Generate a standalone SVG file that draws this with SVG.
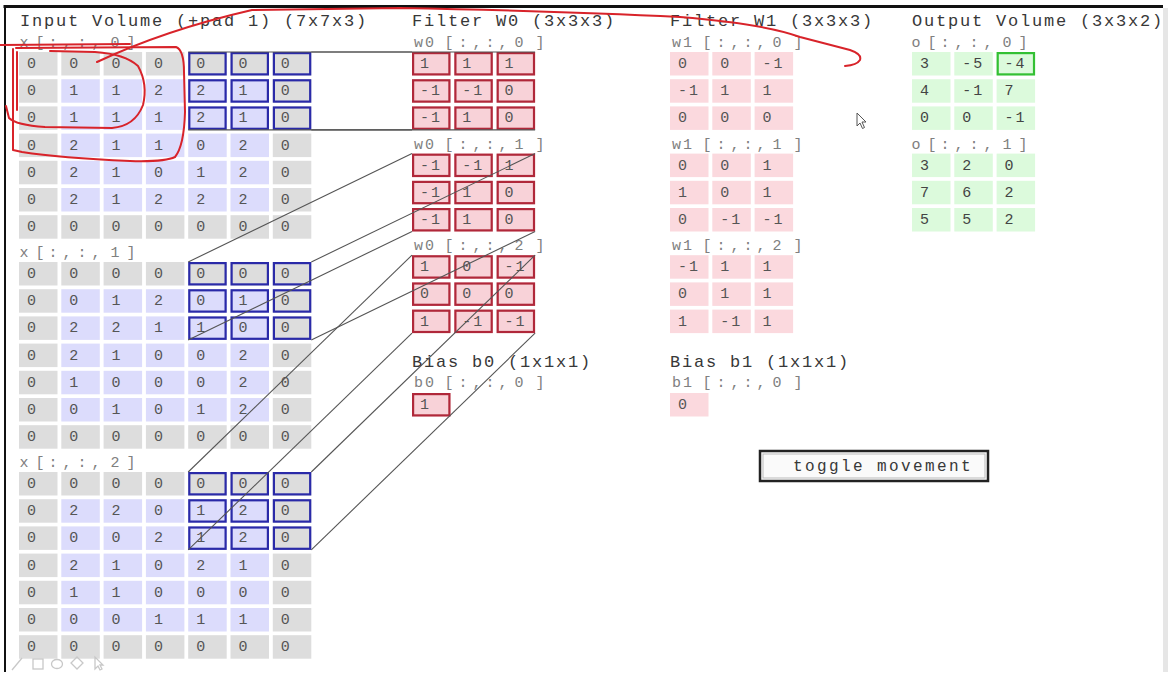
<svg xmlns="http://www.w3.org/2000/svg" xmlns:xlink="http://www.w3.org/1999/xlink" width="1172" height="691" viewBox="0 0 1172 691">
<style>
.h{font-family:"Liberation Mono",monospace;font-size:17px;letter-spacing:1.8px;fill:#383838}
.l{font-family:"Liberation Mono",monospace;font-size:15px;fill:#808080}
.n{font-family:"Liberation Mono",monospace;font-size:15px;letter-spacing:2px;fill:#555}
.no{font-family:"Liberation Mono",monospace;font-size:15px;letter-spacing:2px;fill:#444}
.conn line{stroke:#555;stroke-width:1.1}
.red{fill:none;stroke:#d8232a;stroke-width:2;stroke-linecap:round;stroke-linejoin:round}
</style>
<defs>
<g id="prow" fill="#dddddd">
<rect x="0" width="38.5" height="23.5"/><rect x="42.3" width="38.5" height="23.5"/><rect x="84.6" width="38.5" height="23.5"/><rect x="126.9" width="38.5" height="23.5"/><rect x="169.2" width="38.5" height="23.5"/><rect x="211.5" width="38.5" height="23.5"/><rect x="253.8" width="38.5" height="23.5"/>
</g>
<g id="irow">
<rect x="0" width="38.5" height="23.5" fill="#dddddd"/><rect x="42.3" width="38.5" height="23.5" fill="#dcdcfc"/><rect x="84.6" width="38.5" height="23.5" fill="#dcdcfc"/><rect x="126.9" width="38.5" height="23.5" fill="#dcdcfc"/><rect x="169.2" width="38.5" height="23.5" fill="#dcdcfc"/><rect x="211.5" width="38.5" height="23.5" fill="#dcdcfc"/><rect x="253.8" width="38.5" height="23.5" fill="#dddddd"/>
</g>
<g id="win" fill="none" stroke="#2a2aa8" stroke-width="2.2">
<rect x="170.3" y="1.1" width="36.3" height="21.3"/><rect x="212.6" y="1.1" width="36.3" height="21.3"/><rect x="254.9" y="1.1" width="36.3" height="21.3"/>
<rect x="170.3" y="28.3" width="36.3" height="21.3"/><rect x="212.6" y="28.3" width="36.3" height="21.3"/><rect x="254.9" y="28.3" width="36.3" height="21.3"/>
<rect x="170.3" y="55.5" width="36.3" height="21.3"/><rect x="212.6" y="55.5" width="36.3" height="21.3"/><rect x="254.9" y="55.5" width="36.3" height="21.3"/>
</g>
<g id="grid3">
<rect x="0" y="0" width="38.5" height="23.5"/><rect x="42.3" y="0" width="38.5" height="23.5"/><rect x="84.6" y="0" width="38.5" height="23.5"/>
<rect x="0" y="27.2" width="38.5" height="23.5"/><rect x="42.3" y="27.2" width="38.5" height="23.5"/><rect x="84.6" y="27.2" width="38.5" height="23.5"/>
<rect x="0" y="54.4" width="38.5" height="23.5"/><rect x="42.3" y="54.4" width="38.5" height="23.5"/><rect x="84.6" y="54.4" width="38.5" height="23.5"/>
</g>
<g id="fgrid">
<use xlink:href="#grid3" fill="#f8d2d8"/>
<g fill="none" stroke="#b0283a" stroke-width="2.2">
<rect x="1.1" y="1.1" width="36.3" height="21.3"/><rect x="43.4" y="1.1" width="36.3" height="21.3"/><rect x="85.7" y="1.1" width="36.3" height="21.3"/>
<rect x="1.1" y="28.3" width="36.3" height="21.3"/><rect x="43.4" y="28.3" width="36.3" height="21.3"/><rect x="85.7" y="28.3" width="36.3" height="21.3"/>
<rect x="1.1" y="55.5" width="36.3" height="21.3"/><rect x="43.4" y="55.5" width="36.3" height="21.3"/><rect x="85.7" y="55.5" width="36.3" height="21.3"/>
</g>
</g>
<g id="w1grid"><use xlink:href="#grid3" fill="#fbd9de"/></g>
<g id="ogrid"><use xlink:href="#grid3" fill="#dcfadc"/></g>
</defs>

<rect x="0" y="0" width="1172" height="691" fill="#ffffff"/>
<!-- page frame -->
<line x1="3.5" y1="6.5" x2="1163" y2="6.5" stroke="#111" stroke-width="3"/>
<line x1="5" y1="5" x2="5" y2="672" stroke="#111" stroke-width="2"/>
<rect x="1163" y="8" width="5" height="664" fill="#e6e6e6"/>

<!-- titles -->
<text class="h" x="20" y="26">Input Volume (+pad 1) (7x7x3)</text>
<text class="h" x="412" y="26">Filter W0 (3x3x3)</text>
<text class="h" x="670" y="26">Filter W1 (3x3x3)</text>
<text class="h" x="912" y="26">Output Volume (3x3x2)</text>

<!-- input volume -->
<g id="input-x0">
<text class="l" x="19.5 35.5 48.5 62.5 77.5 91.5 110.5 126.5" y="47">x[:,:,0]</text>
<g transform="translate(19,52)">
<use xlink:href="#prow"/><use xlink:href="#irow" y="27.2"/><use xlink:href="#irow" y="54.4"/><use xlink:href="#irow" y="81.6"/><use xlink:href="#irow" y="108.8"/><use xlink:href="#irow" y="136"/><use xlink:href="#prow" y="163.2"/>
<use xlink:href="#win"/>
<text class="n" x="8 50.3 92.6 134.9 177.2 219.5 261.8" y="16">0000000</text>
<text class="n" x="8 50.3 92.6 134.9 177.2 219.5 261.8" y="43.2">0112210</text>
<text class="n" x="8 50.3 92.6 134.9 177.2 219.5 261.8" y="70.4">0111210</text>
<text class="n" x="8 50.3 92.6 134.9 177.2 219.5 261.8" y="97.6">0211020</text>
<text class="n" x="8 50.3 92.6 134.9 177.2 219.5 261.8" y="124.8">0210120</text>
<text class="n" x="8 50.3 92.6 134.9 177.2 219.5 261.8" y="152">0212220</text>
<text class="n" x="8 50.3 92.6 134.9 177.2 219.5 261.8" y="179.2">0000000</text>
</g>
</g>
<g id="input-x1">
<text class="l" x="19.5 35.5 48.5 62.5 77.5 91.5 110.5 126.5" y="257">x[:,:,1]</text>
<g transform="translate(19,262)">
<use xlink:href="#prow"/><use xlink:href="#irow" y="27.2"/><use xlink:href="#irow" y="54.4"/><use xlink:href="#irow" y="81.6"/><use xlink:href="#irow" y="108.8"/><use xlink:href="#irow" y="136"/><use xlink:href="#prow" y="163.2"/>
<use xlink:href="#win"/>
<text class="n" x="8 50.3 92.6 134.9 177.2 219.5 261.8" y="16">0000000</text>
<text class="n" x="8 50.3 92.6 134.9 177.2 219.5 261.8" y="43.2">0012010</text>
<text class="n" x="8 50.3 92.6 134.9 177.2 219.5 261.8" y="70.4">0221100</text>
<text class="n" x="8 50.3 92.6 134.9 177.2 219.5 261.8" y="97.6">0210020</text>
<text class="n" x="8 50.3 92.6 134.9 177.2 219.5 261.8" y="124.8">0100020</text>
<text class="n" x="8 50.3 92.6 134.9 177.2 219.5 261.8" y="152">0010120</text>
<text class="n" x="8 50.3 92.6 134.9 177.2 219.5 261.8" y="179.2">0000000</text>
</g>
</g>
<g id="input-x2">
<text class="l" x="19.5 35.5 48.5 62.5 77.5 91.5 110.5 126.5" y="467">x[:,:,2]</text>
<g transform="translate(19,472)">
<use xlink:href="#prow"/><use xlink:href="#irow" y="27.2"/><use xlink:href="#irow" y="54.4"/><use xlink:href="#irow" y="81.6"/><use xlink:href="#irow" y="108.8"/><use xlink:href="#irow" y="136"/><use xlink:href="#prow" y="163.2"/>
<use xlink:href="#win"/>
<text class="n" x="8 50.3 92.6 134.9 177.2 219.5 261.8" y="16">0000000</text>
<text class="n" x="8 50.3 92.6 134.9 177.2 219.5 261.8" y="43.2">0220120</text>
<text class="n" x="8 50.3 92.6 134.9 177.2 219.5 261.8" y="70.4">0002120</text>
<text class="n" x="8 50.3 92.6 134.9 177.2 219.5 261.8" y="97.6">0210210</text>
<text class="n" x="8 50.3 92.6 134.9 177.2 219.5 261.8" y="124.8">0110000</text>
<text class="n" x="8 50.3 92.6 134.9 177.2 219.5 261.8" y="152">0001110</text>
<text class="n" x="8 50.3 92.6 134.9 177.2 219.5 261.8" y="179.2">0000000</text>
</g>
</g>

<!-- filter W0 -->
<g id="filter-w0-0">
<text class="l" x="414 425 444.5 458.5 472.5 485.5 498.5 514.5 535.5" y="47">w0[:,:,0]</text>
<g transform="translate(412,52)"><use xlink:href="#fgrid"/>
<text class="n" x="8" y="16">1</text><text class="n" x="50.3" y="16">1</text><text class="n" x="92.6" y="16">1</text>
<text class="n" x="8" y="43.2">-1</text><text class="n" x="50.3" y="43.2">-1</text><text class="n" x="92.6" y="43.2">0</text>
<text class="n" x="8" y="70.4">-1</text><text class="n" x="50.3" y="70.4">1</text><text class="n" x="92.6" y="70.4">0</text>
</g></g>
<g id="filter-w0-1">
<text class="l" x="414 425 444.5 458.5 472.5 485.5 498.5 514.5 535.5" y="148.6">w0[:,:,1]</text>
<g transform="translate(412,153.6)"><use xlink:href="#fgrid"/>
<text class="n" x="8" y="16">-1</text><text class="n" x="50.3" y="16">-1</text><text class="n" x="92.6" y="16">1</text>
<text class="n" x="8" y="43.2">-1</text><text class="n" x="50.3" y="43.2">1</text><text class="n" x="92.6" y="43.2">0</text>
<text class="n" x="8" y="70.4">-1</text><text class="n" x="50.3" y="70.4">1</text><text class="n" x="92.6" y="70.4">0</text>
</g></g>
<g id="filter-w0-2">
<text class="l" x="414 425 444.5 458.5 472.5 485.5 498.5 514.5 535.5" y="250.2">w0[:,:,2]</text>
<g transform="translate(412,255.2)"><use xlink:href="#fgrid"/>
<text class="n" x="8" y="16">1</text><text class="n" x="50.3" y="16">0</text><text class="n" x="92.6" y="16">-1</text>
<text class="n" x="8" y="43.2">0</text><text class="n" x="50.3" y="43.2">0</text><text class="n" x="92.6" y="43.2">0</text>
<text class="n" x="8" y="70.4">1</text><text class="n" x="50.3" y="70.4">-1</text><text class="n" x="92.6" y="70.4">-1</text>
</g></g>
<g id="bias-b0">
<text class="h" x="412" y="367">Bias b0 (1x1x1)</text>
<text class="l" x="414 425 444.5 458.5 472.5 485.5 498.5 514.5 535.5" y="387">b0[:,:,0]</text>
<rect x="412" y="393" width="38.5" height="23.5" fill="#f8d2d8"/>
<rect x="413.1" y="394.1" width="36.3" height="21.3" fill="none" stroke="#b0283a" stroke-width="2.2"/>
<text class="n" x="420" y="409">1</text>
</g>

<!-- filter W1 -->
<g id="filter-w1-0">
<text class="l" x="672 683 702.5 716.5 730.5 743.5 756.5 772.5 793.5" y="47">w1[:,:,0]</text>
<g transform="translate(670,52)"><use xlink:href="#w1grid"/>
<text class="n" x="8" y="16">0</text><text class="n" x="50.3" y="16">0</text><text class="n" x="92.6" y="16">-1</text>
<text class="n" x="8" y="43.2">-1</text><text class="n" x="50.3" y="43.2">1</text><text class="n" x="92.6" y="43.2">1</text>
<text class="n" x="8" y="70.4">0</text><text class="n" x="50.3" y="70.4">0</text><text class="n" x="92.6" y="70.4">0</text>
</g></g>
<g id="filter-w1-1">
<text class="l" x="672 683 702.5 716.5 730.5 743.5 756.5 772.5 793.5" y="148.6">w1[:,:,1]</text>
<g transform="translate(670,153.6)"><use xlink:href="#w1grid"/>
<text class="n" x="8" y="16">0</text><text class="n" x="50.3" y="16">0</text><text class="n" x="92.6" y="16">1</text>
<text class="n" x="8" y="43.2">1</text><text class="n" x="50.3" y="43.2">0</text><text class="n" x="92.6" y="43.2">1</text>
<text class="n" x="8" y="70.4">0</text><text class="n" x="50.3" y="70.4">-1</text><text class="n" x="92.6" y="70.4">-1</text>
</g></g>
<g id="filter-w1-2">
<text class="l" x="672 683 702.5 716.5 730.5 743.5 756.5 772.5 793.5" y="250.2">w1[:,:,2]</text>
<g transform="translate(670,255.2)"><use xlink:href="#w1grid"/>
<text class="n" x="8" y="16">-1</text><text class="n" x="50.3" y="16">1</text><text class="n" x="92.6" y="16">1</text>
<text class="n" x="8" y="43.2">0</text><text class="n" x="50.3" y="43.2">1</text><text class="n" x="92.6" y="43.2">1</text>
<text class="n" x="8" y="70.4">1</text><text class="n" x="50.3" y="70.4">-1</text><text class="n" x="92.6" y="70.4">1</text>
</g></g>
<g id="bias-b1">
<text class="h" x="670" y="367">Bias b1 (1x1x1)</text>
<text class="l" x="672 683 702.5 716.5 730.5 743.5 756.5 772.5 793.5" y="387">b1[:,:,0]</text>
<rect x="670" y="393" width="38.5" height="23.5" fill="#fbd9de"/>
<text class="n" x="678" y="409">0</text>
</g>

<!-- output volume -->
<g id="output-o0">
<text class="l" x="911.5 927.5 940.5 954.5 969.5 983.5 1002.5 1018.5" y="47">o[:,:,0]</text>
<g transform="translate(912,52)"><use xlink:href="#ogrid"/>
<rect x="85.7" y="1.1" width="36.3" height="21.3" fill="none" stroke="#33c033" stroke-width="2.2"/>
<text class="no" x="8" y="16">3</text><text class="no" x="50.3" y="16">-5</text><text class="no" x="92.6" y="16">-4</text>
<text class="no" x="8" y="43.2">4</text><text class="no" x="50.3" y="43.2">-1</text><text class="no" x="92.6" y="43.2">7</text>
<text class="no" x="8" y="70.4">0</text><text class="no" x="50.3" y="70.4">0</text><text class="no" x="92.6" y="70.4">-1</text>
</g></g>
<g id="output-o1">
<text class="l" x="911.5 927.5 940.5 954.5 969.5 983.5 1002.5 1018.5" y="148.6">o[:,:,1]</text>
<g transform="translate(912,153.6)"><use xlink:href="#ogrid"/>
<text class="no" x="8" y="16">3</text><text class="no" x="50.3" y="16">2</text><text class="no" x="92.6" y="16">0</text>
<text class="no" x="8" y="43.2">7</text><text class="no" x="50.3" y="43.2">6</text><text class="no" x="92.6" y="43.2">2</text>
<text class="no" x="8" y="70.4">5</text><text class="no" x="50.3" y="70.4">5</text><text class="no" x="92.6" y="70.4">2</text>
</g></g>

<!-- toggle button -->
<g id="toggle-button">
<rect x="760" y="451" width="228" height="30" fill="#fafafa" stroke="#222" stroke-width="2.5"/>
<rect x="763" y="454" width="222" height="24" fill="none" stroke="#bbb" stroke-width="1"/>
<text class="h" x="793" y="471" style="font-size:16px;letter-spacing:2.4px">toggle movement</text>
</g>

<!-- connectors -->
<g id="connectors" class="conn">
<line x1="188.2" y1="52" x2="412" y2="52"/>
<line x1="311.3" y1="52" x2="535.1" y2="52"/>
<line x1="188.2" y1="129.9" x2="412" y2="129.9"/>
<line x1="311.3" y1="129.9" x2="535.1" y2="129.9"/>
<line x1="188.2" y1="262" x2="412" y2="153.6"/>
<line x1="311.3" y1="262" x2="535.1" y2="153.6"/>
<line x1="188.2" y1="339.9" x2="412" y2="231.5"/>
<line x1="311.3" y1="339.9" x2="535.1" y2="231.5"/>
<line x1="188.2" y1="472" x2="412" y2="255.2"/>
<line x1="311.3" y1="472" x2="535.1" y2="255.2"/>
<line x1="188.2" y1="549.9" x2="412" y2="333.1"/>
<line x1="311.3" y1="549.9" x2="535.1" y2="333.1"/>
</g>

<!-- hand-drawn red annotations -->
<g id="annotations" class="red">
<path d="M0,45 L130,44"/>
<path d="M16,48 L176,47 Q184,50 184,72 L185,112 Q184,146 175,157 Q165,162 130,161 Q60,158 22,152 L13,150 L13,49"/>
<path d="M17,52 L17,110"/>
<path d="M50,51 L95,52 Q125,54 138,66 Q148,84 143,105 Q135,126 112,128 L45,127 Q16,125 9,118 L6,106"/>
<path d="M97,62 Q165,30 252,10 L400,8 Q560,11 680,17 Q765,24 800,37 L850,50 Q862,54 860,60 Q857,65 845,66"/>
</g>

<!-- mouse pointer -->
<polygon points="857,113 857,126 860,123 862.5,128.5 864.5,127.5 862,122 866,122" fill="#fff" stroke="#555" stroke-width="1"/>

<!-- toolbar icons -->
<g fill="none" stroke="#c8c8c8" stroke-width="1.3">
<line x1="12" y1="670" x2="22" y2="658"/>
<rect x="33" y="659" width="10" height="10"/>
<ellipse cx="57" cy="664" rx="5.5" ry="4.5"/>
<polygon points="77,657 83,663 77,669 71,663"/>
<polygon points="95,657 95,669 98,666 100,670 102,669 100,665 103,665"/>
</g>
</svg>
